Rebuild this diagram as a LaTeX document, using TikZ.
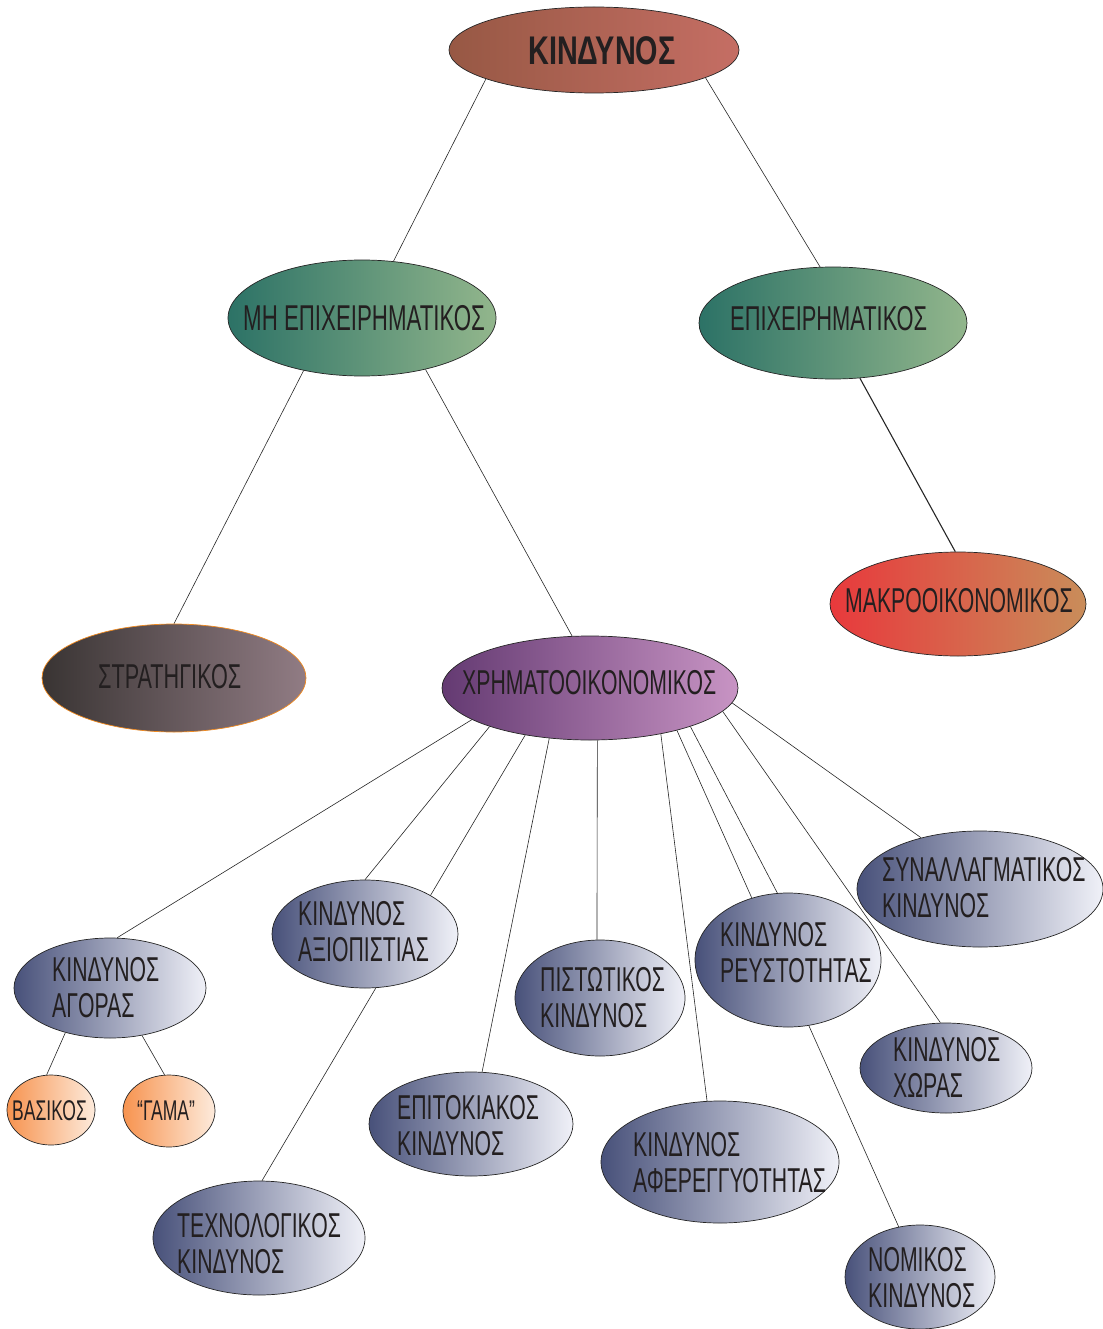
\documentclass[tikz,border=0pt]{standalone}
\usepackage{fontspec}
\usepackage{graphicx}
\usetikzlibrary{shapes.geometric,backgrounds}
\newfontfamily\nf{Liberation Sans}[FakeStretch=0.615]
\newfontfamily\tf{Liberation Sans}[FakeStretch=0.72]
\definecolor{txt}{HTML}{231F20}
\definecolor{topL}{HTML}{975844}
\definecolor{topR}{HTML}{C56E64}
\definecolor{grnL}{HTML}{2C7266}
\definecolor{grnR}{HTML}{92B68C}
\definecolor{strL}{HTML}{393433}
\definecolor{strR}{HTML}{917C84}
\definecolor{strB}{HTML}{F08A20}
\definecolor{chrL}{HTML}{643A72}
\definecolor{chrR}{HTML}{C894C4}
\definecolor{makL}{HTML}{E8393C}
\definecolor{makR}{HTML}{C98D5A}
\definecolor{bluL}{HTML}{48517A}
\definecolor{bluR}{HTML}{F0F1F8}
\definecolor{orL}{HTML}{F7934F}
\definecolor{orR}{HTML}{FDEBDC}
\tikzset{
  ell/.style n args={2}{ellipse, draw=black!85, line width=0.7pt, inner sep=0pt,
    minimum width=#1, minimum height=#2},
  topfill/.style={left color=topL, right color=topR},
  greenfill/.style={left color=grnL, right color=grnR},
  stratfill/.style={left color=strL, right color=strR, draw=strB},
  chrimfill/.style={left color=chrL, right color=chrR},
  makrofill/.style={left color=makL, right color=makR},
  bluefill/.style={left color=bluL, right color=bluR},
  orangefill/.style={left color=orL, right color=orR},
  lbl/.style={anchor=base west, inner sep=0pt, text=txt, align=left,
    font=\nf\fontsize{34.5}{36}\selectfont},
  smalllbl/.style={anchor=base west, inner sep=0pt, text=txt,
    font=\nf\fontsize{28.5}{30}\selectfont},
  edge/.style={draw=black!85, line width=0.6pt},
}
\begin{document}
\begin{tikzpicture}[x=1pt,y=-1pt]
\useasboundingbox (0,0) rectangle (1102,1329);
% ellipses
\node[ell={290pt}{86pt}, topfill] (top) at (594,50) {};
\node[ell={268pt}{116pt}, greenfill] (mhe) at (362,318) {};
\node[ell={268pt}{112pt}, greenfill] (epi) at (833,323) {};
\node[ell={264pt}{108pt}, stratfill] (strat) at (174,678) {};
\node[ell={296pt}{104pt}, chrimfill] (chrim) at (590,688) {};
\node[ell={256pt}{104pt}, makrofill] (makro) at (958,604) {};
\node[ell={192pt}{100pt}, bluefill] (agora) at (110,988) {};
\node[ell={88pt}{70pt}, orangefill] (vasikos) at (51,1110) {};
\node[ell={92pt}{72pt}, orangefill] (gama) at (169,1111) {};
\node[ell={186pt}{108pt}, bluefill] (axiop) at (365,934) {};
\node[ell={170pt}{116pt}, bluefill] (pist) at (600,998) {};
\node[ell={186pt}{134pt}, bluefill] (reus) at (788,960) {};
\node[ell={246pt}{116pt}, bluefill] (synal) at (980,889) {};
\node[ell={172pt}{90pt}, bluefill] (xoras) at (946,1068) {};
\node[ell={204pt}{104pt}, bluefill] (epit) at (471,1124) {};
\node[ell={238pt}{122pt}, bluefill] (afer) at (720,1162) {};
\node[ell={212pt}{114pt}, bluefill] (tech) at (259,1238) {};
\node[ell={150pt}{104pt}, bluefill] (nomikos) at (920,1277) {};
% labels (multi-line labels are placed by the baseline of their last line)
\node[anchor=base west, inner sep=0pt, text=txt, font=\tf\bfseries\fontsize{40}{42}\selectfont] (topT) at (528,65) {ΚΙΝΔΥΝΟΣ};
\node[lbl] (mheT) at (243,330) {\scalebox{1.05}[1.04]{ΜΗ ΕΠΙΧΕΙΡΗΜΑΤΙΚΟΣ}};
\node[lbl] (epiT) at (730,330) {\scalebox{1.03}[1.0]{ΕΠΙΧΕΙΡΗΜΑΤΙΚΟΣ}};
\node[lbl] (stratT) at (98,688) {\scalebox{1.02}[1.0]{ΣΤΡΑΤΗΓΙΚΟΣ}};
\node[lbl] (chrimT) at (462,694) {ΧΡΗΜΑΤΟΟΙΚΟΝΟΜΙΚΟΣ};
\node[lbl] (makroT) at (845,612) {ΜΑΚΡΟΟΙΚΟΝΟΜΙΚΟΣ};
\node[lbl] (agoraT) at (52,1017) {ΚΙΝΔΥΝΟΣ\\ΑΓΟΡΑΣ};
\node[smalllbl] (vasikosT) at (12,1120) {ΒΑΣΙΚΟΣ};
\node[smalllbl] (gamaT) at (137,1120) {“ΓΑΜΑ”};
\node[lbl] (axiopT) at (298,961) {ΚΙΝΔΥΝΟΣ\\ΑΞΙΟΠΙΣΤΙΑΣ};
\node[lbl] (pistT) at (540,1027) {ΠΙΣΤΩΤΙΚΟΣ\\ΚΙΝΔΥΝΟΣ};
\node[lbl] (reusT) at (720,982) {ΚΙΝΔΥΝΟΣ\\ΡΕΥΣΤΟΤΗΤΑΣ};
\node[lbl] (synalT) at (882,917) {ΣΥΝΑΛΛΑΓΜΑΤΙΚΟΣ\\ΚΙΝΔΥΝΟΣ};
\node[lbl] (xorasT) at (893,1097) {ΚΙΝΔΥΝΟΣ\\ΧΩΡΑΣ};
\node[lbl] (epitT) at (397,1155) {ΕΠΙΤΟΚΙΑΚΟΣ\\ΚΙΝΔΥΝΟΣ};
\node[lbl] (aferT) at (633,1192) {ΚΙΝΔΥΝΟΣ\\ΑΦΕΡΕΓΓΥΟΤΗΤΑΣ};
\node[lbl] (techT) at (177,1273) {ΤΕΧΝΟΛΟΓΙΚΟΣ\\ΚΙΝΔΥΝΟΣ};
\node[lbl] (nomikosT) at (868,1307) {ΝΟΜΙΚΟΣ\\ΚΙΝΔΥΝΟΣ};
% connectors
\begin{pgfonlayer}{background}
\draw[edge] (top.-165) -- (mhe.61);
\draw[edge] (top.-14) -- (epi.103);
\draw[edge] (mhe.-138.5) -- (strat.90);
\draw[edge] (mhe.-39) -- (chrim.109);
\draw[edge, line width=1.1pt] (epi.-64) -- (makro.93);
\draw[edge] (chrim.-165.5) -- (agora.82);
\draw[edge] (chrim.-159.5) -- (axiop.90);
\draw[edge] (chrim.-144) -- (tech.87);
\draw[edge] (chrim.-129.4) -- (epit.78);
\draw[edge] (chrim.-82) -- (pist.93);
\draw[edge] (chrim.-33.3) -- (afer.102.7);
\draw[edge] (chrim.-26.8) -- (nomikos.113);
\draw[edge] (chrim.-21.7) -- (reus.99.4);
\draw[edge] (chrim.-10.1) -- (xoras.97.6);
\draw[edge] (chrim.-6) -- (synal.139);
\draw[edge] (agora.-135.6) -- (vasikos.97);
\draw[edge] (agora.-56.6) -- (gama.97);
\end{pgfonlayer}
\end{tikzpicture}
\end{document}
